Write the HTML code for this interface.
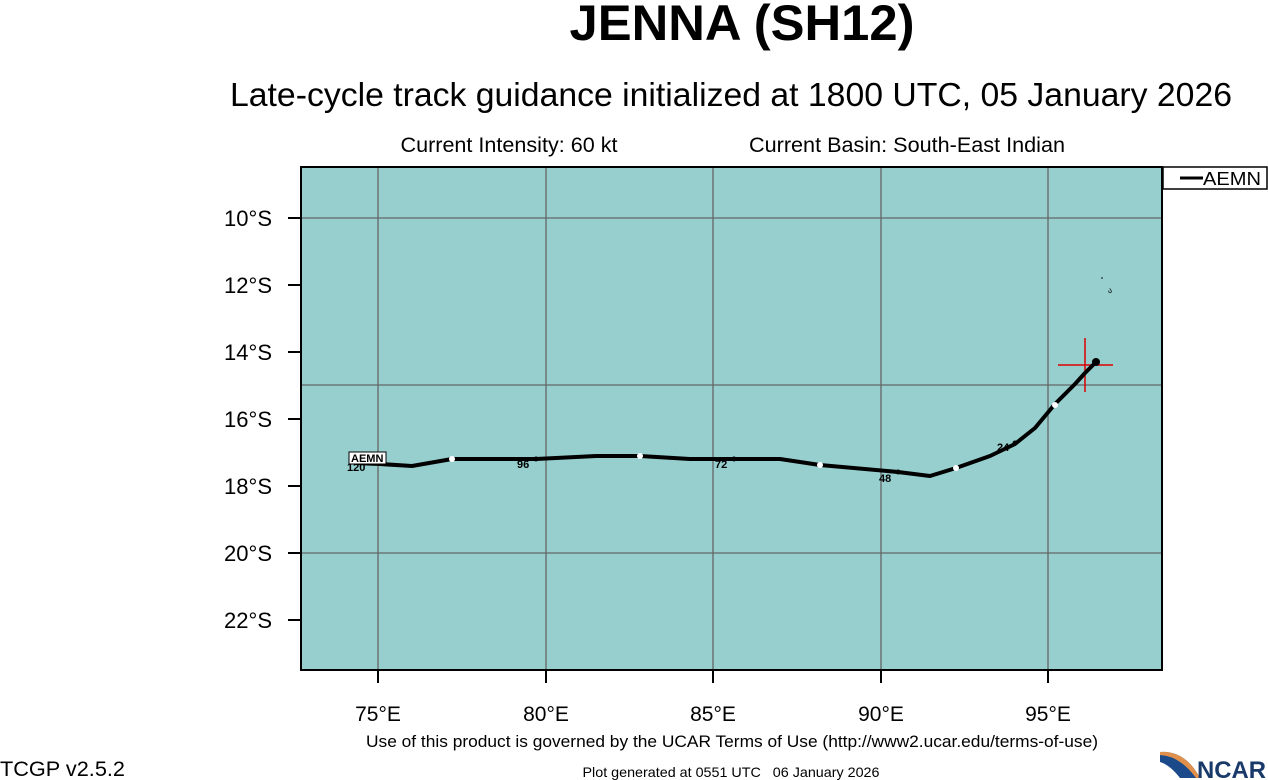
<!DOCTYPE html>
<html><head><meta charset="utf-8"><style>
body{margin:0;background:#fff;}
svg{display:block;font-family:"Liberation Sans",sans-serif;}
</style></head><body>
<svg width="1268" height="780" viewBox="0 0 1268 780">
<text x="742" y="40" font-size="50" font-weight="bold" text-anchor="middle" textLength="345" lengthAdjust="spacingAndGlyphs">JENNA (SH12)</text>
<text x="731" y="106" font-size="33" text-anchor="middle" textLength="1002" lengthAdjust="spacingAndGlyphs">Late-cycle track guidance initialized at 1800 UTC, 05 January 2026</text>
<text x="509" y="152" font-size="21" text-anchor="middle" textLength="217" lengthAdjust="spacingAndGlyphs">Current Intensity: 60 kt</text>
<text x="907" y="152" font-size="21" text-anchor="middle" textLength="316" lengthAdjust="spacingAndGlyphs">Current Basin: South-East Indian</text>
<rect x="301" y="167" width="861" height="503" fill="#97cfcf"/>
<g stroke="#666" stroke-width="1.3">
<line x1="378" y1="167" x2="378" y2="670"/><line x1="546" y1="167" x2="546" y2="670"/>
<line x1="713" y1="167" x2="713" y2="670"/><line x1="881" y1="167" x2="881" y2="670"/>
<line x1="1048" y1="167" x2="1048" y2="670"/>
<line x1="301" y1="218" x2="1162" y2="218"/><line x1="301" y1="385" x2="1162" y2="385"/>
<line x1="301" y1="553" x2="1162" y2="553"/>
</g>
<rect x="301" y="167" width="861" height="503" fill="none" stroke="#000" stroke-width="2"/>
<g stroke="#000" stroke-width="2">
<line x1="288" y1="218" x2="301" y2="218"/><line x1="288" y1="285" x2="301" y2="285"/>
<line x1="288" y1="352" x2="301" y2="352"/><line x1="288" y1="419" x2="301" y2="419"/>
<line x1="288" y1="486" x2="301" y2="486"/><line x1="288" y1="553" x2="301" y2="553"/>
<line x1="288" y1="620" x2="301" y2="620"/>
<line x1="378" y1="670" x2="378" y2="683"/><line x1="546" y1="670" x2="546" y2="683"/>
<line x1="713" y1="670" x2="713" y2="683"/><line x1="881" y1="670" x2="881" y2="683"/>
<line x1="1048" y1="670" x2="1048" y2="683"/>
</g>
<g font-size="22" text-anchor="end">
<text x="272" y="226">10°S</text><text x="272" y="293">12°S</text><text x="272" y="360">14°S</text>
<text x="272" y="427">16°S</text><text x="272" y="494">18°S</text><text x="272" y="561">20°S</text>
<text x="272" y="628">22°S</text>
</g>
<g font-size="21" text-anchor="middle">
<text x="378" y="721">75°E</text><text x="546" y="721">80°E</text><text x="713" y="721">85°E</text>
<text x="881" y="721">90°E</text><text x="1048" y="721">95°E</text>
</g>
<g stroke="#d00" stroke-width="1.5">
<line x1="1058" y1="365" x2="1113" y2="365"/><line x1="1085" y1="338" x2="1085" y2="392"/>
</g>
<polyline fill="none" stroke="#000" stroke-width="4" stroke-linejoin="round" points="354,463 380,464 412,466 452,459 536,459 596,456 640,456 690,459 734,459 780,459 820,465 898,472 930,476 956,468 990,456 1015,444 1035,428 1055,404 1075,384 1085,373 1096,362"/>
<circle cx="1096" cy="362" r="4" fill="#000"/>
<g fill="#fff"><circle cx="452" cy="459" r="3"/><circle cx="640" cy="456" r="3"/><circle cx="820" cy="465" r="3"/><circle cx="956" cy="468" r="3"/><circle cx="1055" cy="405" r="3"/></g>
<g fill="#000"><circle cx="536" cy="459" r="2.5"/><circle cx="734" cy="459" r="2.5"/><circle cx="898" cy="472" r="2.5"/><circle cx="1015" cy="443" r="2.5"/></g>
<g font-size="11" font-weight="bold">
<text x="517" y="468">96</text><text x="715" y="468">72</text><text x="879" y="482">48</text><text x="997" y="451">24</text>
<text x="347" y="471">120</text>
</g>
<rect x="349" y="452" width="37" height="12" fill="#fff" stroke="#000" stroke-width="1"/>
<text x="351" y="462" font-size="11" font-weight="bold">AEMN</text>
<text x="1108" y="293" font-size="8">ა</text><circle cx="1102" cy="278" r="0.8" fill="#000"/>
<rect x="1163" y="167" width="104" height="22" fill="#fff" stroke="#000" stroke-width="1.5"/>
<line x1="1180" y1="178" x2="1203" y2="178" stroke="#000" stroke-width="3"/>
<text x="1203" y="185" font-size="18" textLength="58" lengthAdjust="spacingAndGlyphs">AEMN</text>
<text x="732" y="747" font-size="17" text-anchor="middle" textLength="732" lengthAdjust="spacingAndGlyphs">Use of this product is governed by the UCAR Terms of Use (http://www2.ucar.edu/terms-of-use)</text>
<text x="0" y="776" font-size="21" textLength="125" lengthAdjust="spacingAndGlyphs">TCGP v2.5.2</text>
<text x="731" y="777" font-size="14" text-anchor="middle" textLength="297" lengthAdjust="spacingAndGlyphs">Plot generated at 0551 UTC&#160;&#160;&#160;06 January 2026</text>
<path d="M1160 752 Q1185 750 1200 778 L1180 778 Q1170 765 1160 762 Z" fill="#1a4a8a"/>
<path d="M1160 752 Q1185 750 1200 778 L1196 778 Q1180 756 1160 755 Z" fill="#e0904a"/>
<text x="1197" y="778" font-size="24" font-weight="bold" fill="#1a3a6a" textLength="69" lengthAdjust="spacingAndGlyphs">NCAR</text>
</svg>
</body></html>
